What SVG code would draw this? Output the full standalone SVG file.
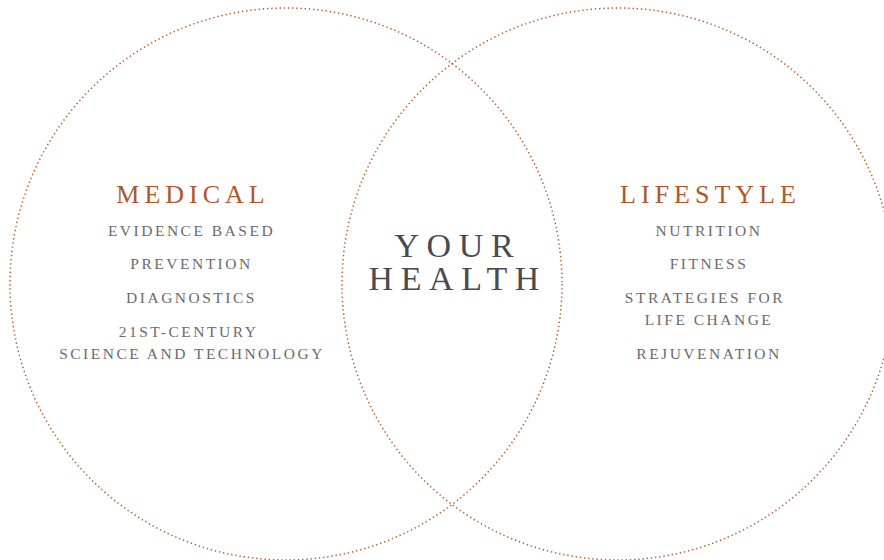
<svg xmlns="http://www.w3.org/2000/svg" width="884" height="560" viewBox="0 0 884 560">
<style>
.ring{fill:none;stroke:#b85f2e;stroke-width:1.5;stroke-dasharray:1.4 2.8}
text{font-family:"Liberation Serif","Times New Roman",serif;text-anchor:middle}
.head{font-size:26px;letter-spacing:5px;fill:#b0582b}
.item{font-size:15.5px;letter-spacing:2.5px;fill:#6a6a6a}
.core{font-size:34px;letter-spacing:7.6px;fill:#4a4a4f}
</style>
<rect width="884" height="560" fill="#ffffff"/>
<g id="connectors"></g>
<g id="medical">
<circle class="ring" cx="286" cy="284" r="276"/>
<text class="head" x="193" y="202.5">MEDICAL</text>
<text class="item" x="191.5" y="236">EVIDENCE BASED</text>
<text class="item" x="191.5" y="269.3">PREVENTION</text>
<text class="item" x="191.5" y="303.3">DIAGNOSTICS</text>
<text class="item" x="188.5" y="336.7">21ST-CENTURY</text>
<text class="item" x="192" y="359.3">SCIENCE AND TECHNOLOGY</text>
</g>
<g id="lifestyle">
<circle class="ring" cx="618" cy="284" r="276"/>
<text class="head" x="710.5" y="202.5">LIFESTYLE</text>
<text class="item" x="709" y="236">NUTRITION</text>
<text class="item" x="709" y="269.3">FITNESS</text>
<text class="item" x="705" y="303.3">STRATEGIES FOR</text>
<text class="item" x="709" y="325">LIFE CHANGE</text>
<text class="item" x="709" y="359.3">REJUVENATION</text>
</g>
<g id="your-health">
<text class="core"><tspan x="457.8" y="256.7">YOUR</tspan><tspan x="457.8" y="290">HEALTH</tspan></text>
</g>
</svg>
